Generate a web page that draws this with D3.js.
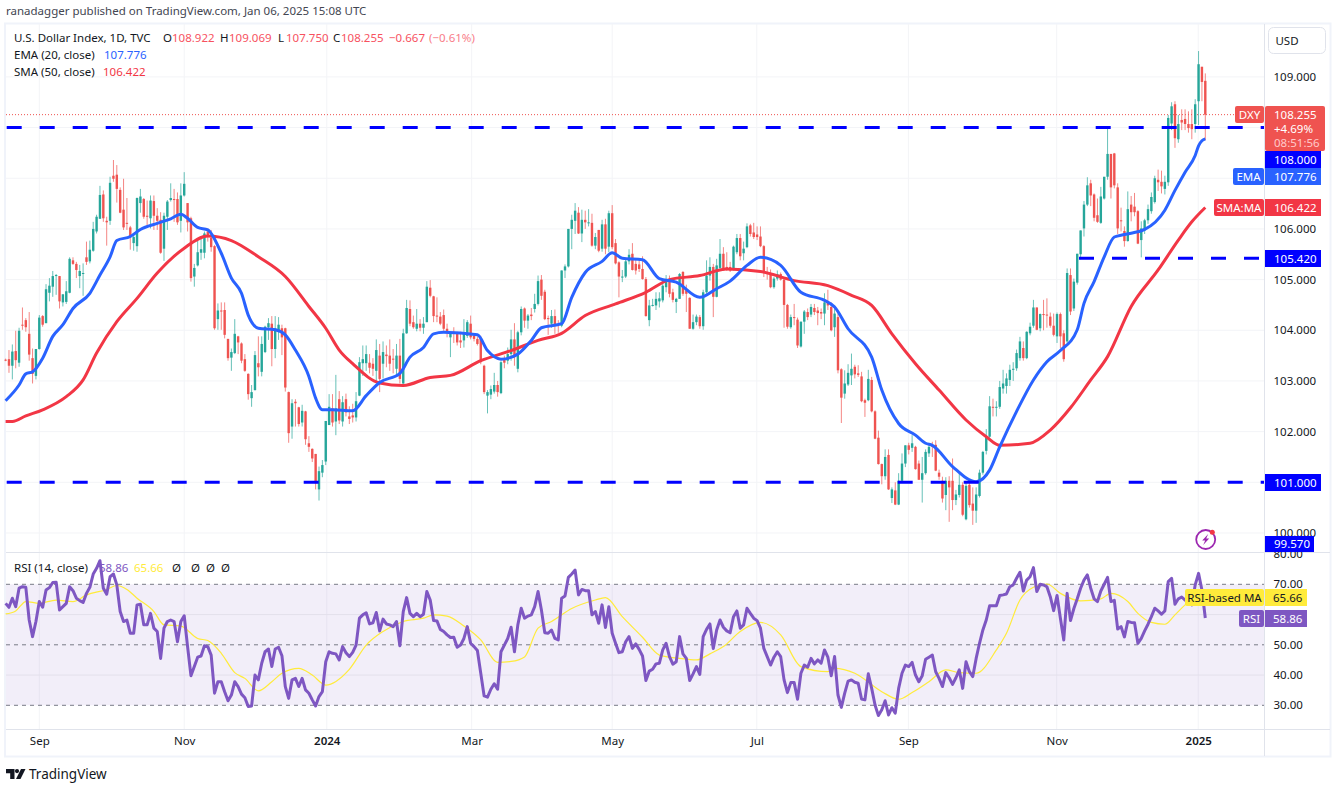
<!DOCTYPE html>
<html><head><meta charset="utf-8">
<script src="https://cdn.jsdelivr.net/npm/d3@7"></script>
<style>
html,body{margin:0;padding:0;background:#fff;overflow:hidden}
svg{display:block}
text{font-family:"Noto Sans",sans-serif;font-size:11.5px;fill:#131722}
</style></head><body>
<svg id="c" width="1337" height="791"></svg>
<script>
const opens=[
103.42,103.43,103.30,103.59,103.36,104.11,104.20,103.93,103.45,103.10,
103.63,104.28,104.14,104.74,104.86,105.07,105.07,104.55,104.56,104.74,
105.38,105.31,105.07,105.13,105.44,105.36,105.57,105.95,106.20,106.68,
106.16,106.16,107.05,107.07,106.77,106.38,106.12,106.03,105.72,105.66,
106.51,106.59,106.26,106.21,106.55,106.26,106.18,105.61,106.24,106.57,
106.59,106.59,106.16,106.66,106.51,106.21,105.06,105.28,105.53,105.53,
105.95,105.82,105.66,104.22,104.39,104.40,103.83,103.46,103.55,103.88,
103.74,103.43,103.14,102.66,102.82,103.35,103.18,103.57,104.06,104.13,
103.63,103.97,104.04,104.04,102.78,102.10,102.59,102.48,102.18,102.40,
101.77,101.66,101.56,100.86,101.19,101.41,102.13,102.46,102.20,102.64,
102.20,102.64,102.30,102.32,102.28,102.71,103.35,103.35,103.36,103.34,
103.20,103.50,103.34,103.52,103.50,103.44,103.24,103.50,102.95,103.94,
104.42,104.16,104.03,104.13,104.05,104.16,104.84,104.67,104.29,104.27,
104.30,104.03,103.86,103.97,103.96,103.80,103.80,103.89,104.13,103.89,
103.83,103.83,103.30,102.71,102.73,102.79,102.92,102.76,103.43,103.40,
103.53,103.82,103.24,103.96,104.43,104.19,104.31,104.42,104.52,105.00,
104.76,104.24,104.13,104.28,104.12,104.09,105.18,105.26,106.00,106.16,
106.32,105.91,106.18,106.12,106.12,105.67,105.98,105.61,106.09,105.65,
106.31,105.72,105.34,105.04,105.06,105.36,105.51,105.31,105.30,105.21,
105.01,104.20,104.50,104.49,104.57,104.59,104.85,105.01,104.75,104.56,
104.62,105.15,104.79,104.64,104.03,104.16,104.26,104.08,104.75,105.08,
105.25,104.66,105.23,105.51,105.25,105.25,105.22,105.54,105.82,105.52,
105.64,106.07,105.93,105.89,105.85,105.66,105.15,105.13,104.85,105.02,
105.11,105.00,104.50,104.06,104.26,104.21,103.68,104.17,104.36,104.31,
104.44,104.39,104.36,104.33,104.54,104.46,104.06,104.26,103.23,102.75,
102.93,103.11,103.28,103.15,103.09,102.62,102.62,103.02,102.40,101.88,
101.36,101.12,101.54,100.69,100.84,100.56,101.03,101.37,101.73,101.68,
101.70,101.37,101.05,101.18,101.57,101.72,101.74,101.19,101.03,100.75,
101.03,101.03,100.65,100.75,100.95,100.27,100.95,100.58,100.44,100.73,
101.19,101.62,101.90,102.49,102.47,102.49,102.85,102.90,103.02,103.22,
103.25,103.45,103.65,103.45,103.94,104.09,104.45,104.04,104.32,104.31,
104.27,104.09,103.88,104.32,103.94,103.78,105.09,104.43,104.94,105.50,
106.01,106.48,106.90,106.68,106.27,106.12,106.60,107.03,107.48,107.49,
106.82,106.17,105.96,105.76,106.48,106.44,106.35,105.78,105.97,106.17,
106.35,106.53,106.97,106.93,106.79,106.92,108.08,108.46,107.77,108.15,
108.17,108.07,108.07,108.07,108.52,109.20,108.922];
const highs=[
103.44,103.61,103.72,103.99,104.05,104.45,104.24,104.36,103.64,103.63,
104.30,104.30,104.91,105.03,105.17,105.11,105.07,104.71,104.97,105.44,
105.44,105.35,105.29,105.32,105.75,105.77,106.14,106.28,106.85,106.76,
106.24,107.03,107.36,107.26,106.82,106.99,106.61,106.06,105.91,106.62,
106.79,106.61,106.56,106.66,106.66,106.41,106.33,106.32,106.57,106.90,
106.79,106.72,106.90,107.12,106.51,106.24,105.31,105.78,105.86,105.95,
106.01,105.98,105.68,104.53,104.55,104.55,103.83,103.64,104.22,103.89,
103.76,103.53,103.15,102.92,103.59,103.88,103.88,104.09,104.24,104.28,
104.28,104.26,104.11,104.05,102.79,102.64,102.64,102.49,102.53,102.41,
101.91,101.67,101.56,101.31,101.44,102.21,102.74,102.74,103.12,102.80,
102.70,102.75,102.50,102.55,102.78,103.47,103.70,103.70,103.53,103.45,
103.82,103.73,103.78,103.70,103.82,103.63,103.73,103.83,104.03,104.60,
104.59,104.29,104.42,104.22,104.26,104.97,104.99,104.68,104.65,104.36,
104.41,104.13,103.96,104.06,103.97,103.97,104.22,104.20,104.29,103.93,
103.88,103.89,103.32,102.82,102.91,103.16,103.00,103.39,103.50,103.66,
104.01,104.14,103.99,104.47,104.45,104.32,104.44,104.72,105.08,105.09,
104.80,104.29,104.40,104.41,104.20,105.18,105.30,106.00,106.28,106.51,
106.43,106.38,106.36,106.39,106.30,105.92,105.98,106.18,106.20,106.36,
106.47,105.80,105.36,105.19,105.41,105.60,105.72,105.40,105.40,105.46,
105.05,104.60,104.62,104.75,104.75,104.97,105.09,105.08,104.82,104.64,
105.13,105.17,104.90,104.65,104.31,104.31,104.30,104.80,105.38,105.44,
105.31,105.41,105.80,105.64,105.54,105.35,105.67,105.90,105.90,105.75,
106.11,106.10,106.12,106.05,106.05,105.68,105.25,105.20,105.05,105.18,
105.14,105.05,104.52,104.31,104.52,104.25,104.17,104.40,104.43,104.52,
104.52,104.46,104.43,104.73,104.80,104.55,104.50,104.33,103.25,103.21,
103.33,103.54,103.32,103.31,103.18,102.65,103.22,103.08,102.42,102.02,
101.37,101.65,101.65,100.90,101.00,101.18,101.57,101.73,101.78,101.93,
101.72,101.43,101.50,101.65,101.75,101.80,101.83,101.25,101.11,101.10,
101.12,101.47,100.85,101.22,101.00,101.03,101.00,100.90,100.90,101.25,
101.62,102.05,102.70,102.65,102.60,103.00,103.22,103.15,103.32,103.37,
103.62,103.87,103.78,103.98,104.15,104.60,104.45,104.33,104.60,104.63,
104.35,104.33,104.35,104.35,104.00,105.22,105.22,105.02,105.51,105.97,
106.55,107.02,106.97,106.70,106.60,106.83,107.00,108.00,107.48,107.50,
106.90,106.42,106.05,106.74,106.65,106.71,106.37,106.15,106.20,106.48,
106.72,107.05,107.17,107.15,107.05,108.25,108.50,108.52,108.25,108.36,
108.36,108.32,108.36,108.56,109.51,109.20,109.069];
const lows=[
103.39,103.16,103.03,103.25,103.28,104.01,103.97,103.40,102.95,103.03,
103.62,104.07,104.14,104.57,104.66,104.70,104.43,104.47,104.52,104.73,
105.29,105.03,104.83,104.68,105.29,105.32,105.55,105.91,106.20,106.14,
105.67,106.08,106.93,106.52,106.31,105.98,105.98,105.59,105.57,105.55,
106.32,106.20,106.03,106.01,105.98,105.98,105.51,105.37,105.98,106.54,
106.14,106.08,105.93,106.64,105.95,104.96,104.86,105.26,105.39,105.42,
105.75,105.55,104.01,104.01,104.01,103.84,103.40,103.20,103.53,103.53,
103.35,103.18,102.63,102.49,102.81,103.09,103.09,103.55,103.81,103.29,
103.45,103.81,103.51,102.79,101.78,101.86,102.10,102.10,102.10,101.74,
101.60,101.40,100.86,100.64,101.10,101.34,102.13,102.10,101.93,102.15,
102.10,102.30,102.15,102.18,102.20,102.70,103.10,103.20,103.15,103.10,
103.00,102.78,103.05,103.27,103.20,103.15,103.10,102.95,102.94,103.93,
104.08,104.03,103.98,103.98,103.93,104.16,104.65,104.16,104.16,104.10,
103.99,103.86,103.47,103.75,103.70,103.65,103.66,103.85,103.82,103.78,
103.70,103.33,102.74,102.36,102.64,102.75,102.69,102.74,103.25,103.33,
103.40,103.30,103.17,103.90,104.05,104.03,104.20,104.35,104.49,104.60,
104.20,103.91,104.05,103.93,103.95,104.06,105.03,105.24,105.60,105.90,
105.90,105.74,106.00,106.05,105.65,105.60,105.54,105.55,105.50,105.54,
105.60,105.30,104.65,104.95,105.03,105.30,105.18,105.10,105.15,105.00,
104.27,104.08,104.47,104.40,104.45,104.55,104.75,104.65,104.55,104.34,
104.62,104.68,104.36,104.03,104.01,104.10,104.03,104.01,104.72,104.98,
104.26,104.65,105.20,105.18,105.17,105.15,105.18,105.50,105.38,105.38,
105.62,105.85,105.80,105.78,105.64,105.05,105.00,104.83,104.82,104.98,
104.98,104.05,104.03,104.03,104.10,103.65,103.66,103.93,104.20,104.26,
104.30,104.10,104.22,104.10,104.40,103.98,103.87,103.15,102.17,102.65,
102.90,102.92,103.05,103.08,102.58,102.29,102.60,102.38,101.85,101.35,
100.96,101.05,100.85,100.59,100.55,100.55,101.00,101.30,101.55,101.60,
101.25,101.05,100.60,101.15,101.50,101.50,101.22,101.05,100.60,100.45,
100.22,100.45,100.55,100.70,100.33,100.25,100.50,100.16,100.20,100.70,
101.15,101.55,101.88,102.30,102.30,102.45,102.75,102.75,102.90,103.00,
103.20,103.40,103.40,103.43,103.90,104.05,104.00,103.98,104.00,104.05,
104.05,103.88,103.75,103.65,103.38,103.75,104.30,104.38,104.90,105.40,
105.85,106.45,106.45,106.15,106.12,106.10,106.58,106.97,106.60,106.80,
105.90,105.95,105.65,105.75,106.15,106.25,105.70,105.44,105.90,106.10,
106.30,106.50,106.75,106.70,106.68,106.85,107.95,107.60,107.70,107.95,
107.95,107.90,107.77,107.90,108.05,108.52,107.750];
const closes=[
103.40,103.30,103.58,103.41,103.99,104.10,104.06,103.52,103.14,103.63,
104.25,104.11,104.81,104.88,105.07,105.09,104.57,104.71,104.77,105.41,
105.31,105.19,105.17,105.13,105.35,105.59,106.00,106.24,106.67,106.21,
106.13,106.91,106.99,106.79,106.32,106.03,106.10,105.84,105.84,106.61,
106.64,106.24,106.24,106.56,106.26,106.16,105.53,106.26,106.54,106.61,
106.57,106.13,106.66,106.89,106.13,105.03,105.23,105.54,105.60,105.91,
105.84,105.64,104.04,104.39,104.37,103.91,103.45,103.57,103.93,103.76,
103.40,103.20,102.74,102.78,103.51,103.27,103.73,104.07,104.14,103.63,
104.04,104.11,103.86,102.87,101.97,102.56,102.56,102.15,102.41,101.85,
101.70,101.47,100.98,101.22,101.34,102.21,102.49,102.18,102.46,102.22,
102.58,102.38,102.25,102.28,102.60,103.37,103.43,103.53,103.26,103.24,
103.61,103.04,103.57,103.49,103.34,103.42,103.50,103.04,103.94,104.44,
104.13,104.06,104.13,104.05,104.13,104.86,104.68,104.28,104.27,104.13,
104.03,103.96,103.96,103.94,103.76,103.76,103.96,104.16,103.86,103.83,
103.73,103.37,102.78,102.78,102.84,102.92,102.78,103.37,103.36,103.53,
103.82,103.47,103.96,104.42,104.19,104.29,104.28,104.52,104.97,104.68,
104.22,104.22,104.28,104.09,104.10,105.18,105.26,106.00,106.18,106.36,
105.91,106.18,106.13,106.13,105.67,105.84,105.57,106.09,105.61,106.31,
105.64,105.32,105.06,105.06,105.36,105.49,105.19,105.18,105.21,105.01,
104.28,104.49,104.50,104.62,104.63,104.88,105.01,104.72,104.60,104.62,
105.11,104.72,104.72,104.03,104.16,104.27,104.08,104.75,105.08,105.25,
104.66,105.28,105.51,105.18,105.22,105.18,105.65,105.82,105.46,105.61,
106.05,105.90,105.84,105.84,105.66,105.15,105.11,104.85,105.02,105.11,
105.00,104.50,104.07,104.26,104.25,103.70,104.17,104.37,104.26,104.46,
104.36,104.34,104.33,104.55,104.49,104.00,104.33,103.21,102.67,102.95,
103.16,103.24,103.13,103.12,102.60,102.57,103.04,102.40,101.86,101.36,
101.12,101.50,100.86,100.86,100.56,101.03,101.37,101.73,101.64,101.77,
101.26,101.05,101.18,101.60,101.70,101.71,101.23,101.11,100.68,101.03,
100.90,100.65,100.76,100.95,100.36,100.93,100.55,100.44,100.76,101.19,
101.60,101.90,102.50,102.47,102.49,102.88,102.95,103.05,103.22,103.24,
103.55,103.78,103.45,103.97,104.07,104.45,104.01,104.32,104.30,104.30,
104.09,103.91,104.32,103.88,103.43,105.13,104.37,104.96,105.51,105.97,
106.48,106.86,106.66,106.22,106.14,106.64,107.03,107.48,106.82,106.86,
106.01,106.16,105.76,106.39,106.33,106.33,105.71,106.01,106.17,106.39,
106.63,107.00,106.92,106.84,106.93,108.19,108.42,107.79,108.07,108.10,
108.07,107.99,107.97,108.46,109.25,108.90,108.255];
const rsiValues=[
63.7,62.4,65.4,62.6,68.7,69.2,69,58.2,52.7,57.7,
64.3,62.4,68.1,68.9,70.6,70.7,61.5,62.6,63.7,69.2,
67.9,65.4,64.6,64,67,69,73.4,75.3,77.8,68.7,
66.7,72.5,73.4,69.8,61,57.7,58.2,53.8,53.8,63.2,
63.4,56.6,56.6,60.4,55.5,54.4,45.5,55.5,57.7,58.2,
57.7,51,57.7,59.6,49.4,39.8,42.8,45.9,46.3,49.7,
49.4,46.6,34,37.8,37.8,34.5,31.5,33.4,37.8,36.2,
33.7,32.5,29.6,29.8,40,38.4,43.9,47.7,48.6,42.8,
48.6,49.2,46.4,36.2,32.3,38.4,38.9,36.2,38.9,35.1,
34,31.8,29.8,32.9,34.5,44.4,47.7,47.2,47,45,
49.4,47.4,46.1,47.5,49.9,58.8,59.9,60.6,56.9,57.3,
60.7,54.6,58.5,56.9,56.6,56,57.7,49.7,61,65.6,
60.4,59.3,60.4,59.3,60.1,67.6,64.8,58,57.9,55.1,
54.4,53.3,52.4,52.5,49.2,49.9,52.1,56,50.5,49.4,
48.1,40.6,33.1,32.7,35.3,37.1,35.3,47.7,49.9,52.1,
55.8,47.7,56.6,62.1,58.8,59.5,59.9,62.6,67.6,61.5,
54,53.8,54.9,52.1,51.6,65.4,66.1,72.3,73.4,74.7,
66.5,68.3,67.9,67.9,59.9,61,57.1,63.2,55.7,62.6,
53.8,50.5,47.4,47.7,51,52.7,48.8,50.3,48.5,46.3,
38.2,41.3,41.9,43.7,43.9,48.3,50.5,46.1,43.6,44.4,
52.7,47,45.5,38.2,40.4,42.8,40.2,52.7,55.1,56.9,
48.8,54.9,58.2,55.8,54.6,54,59.3,61.2,55.5,56.6,
62.1,60.4,58.8,58,55.5,48.8,46.1,43.3,45.9,47.7,
46.1,38.4,34.2,37.5,37.5,32,40.6,43.3,42.6,45.5,
43.7,45,43.9,48.3,45.9,39.8,46.1,33.4,29.3,34,
38,38.4,37.6,37.3,32.1,31.8,40.4,35.6,30.1,26.6,
28.5,31.5,26.8,29.2,27.4,35.6,40.6,43.3,42.8,44.2,
40,37.8,39.8,45.2,45.9,46.6,41.1,38.9,36.2,40.8,
39.1,36.9,39.1,41.7,35.6,44.4,41.1,39.5,45.5,50.5,
54.9,58.2,62.9,62.9,62.9,66.3,66.5,66.8,69.2,69.8,
72,74,67.8,71.4,72.5,75.5,67.6,70,69.8,69.2,
65.9,61.3,66.3,58.8,51.6,67,58,62,65.2,68.7,
71.4,73.1,68.7,65.2,64.3,67.8,70,72.3,64.3,64.7,
55.2,56,52.6,57.7,57.4,57.3,50.5,52.1,54.6,56.8,
59.3,62.1,61.2,60.1,61.2,70.9,72,63.4,65.2,65.8,
64.8,63.7,63.2,69.8,73.6,68.1,58.86];
const emaBars=[0,4,6,8,11,14,17,20,25,28,31,33,37,40,45,49,52,54,57,60,64,67,70,72,75,80,83,86,90,92,94,97,103,107,111,117,120,124,127,130,140,143,147,152,156,159,165,168,172,177,180,183,189,194,199,206,211,215,220,224,230,236,243,246,250,257,260,265,270,273,275,281,288,292,295,300,305,309,313,318,320,323,326,329,332,338,344,347,350,353,354,355,356];
const emaValues=[102.61,102.92,103.14,103.18,103.45,103.88,104.11,104.43,104.73,105.09,105.45,105.77,105.85,105.99,106.11,106.20,106.29,106.21,106.03,105.98,105.52,105.03,104.73,104.30,104.04,104.01,103.91,103.61,103.09,102.66,102.43,102.43,102.41,102.71,102.97,103.15,103.47,103.66,103.93,103.96,103.91,103.60,103.43,103.53,103.80,104.05,104.13,104.65,105.14,105.36,105.53,105.42,105.39,105.02,104.95,104.65,104.82,104.97,105.28,105.44,105.28,104.75,104.59,104.46,104.03,103.47,102.82,102.16,101.93,101.77,101.73,101.31,101.01,101.24,101.70,102.40,103.02,103.38,103.60,104.01,104.53,104.96,105.45,105.84,105.89,105.99,106.37,106.76,107.12,107.45,107.64,107.74,107.776];
const smaBars=[0,2,6,11,18,23,27,33,39,45,53,60,67,75,83,90,95,99,103,111,118,126,132,141,150,158,165,172,181,190,197,206,214,224,234,244,251,257,263,270,277,285,291,295,304,310,316,322,327,334,342,348,352,356];
const smaValues=[102.2,102.2,102.31,102.43,102.69,103.02,103.55,104.17,104.63,105.13,105.62,105.86,105.77,105.45,105.06,104.47,104.04,103.61,103.34,102.96,102.91,103.07,103.11,103.4,103.6,103.8,103.94,104.29,104.52,104.75,105,105.08,105.21,105.16,104.98,104.88,104.69,104.49,103.93,103.34,102.82,102.23,101.9,101.73,101.77,102.03,102.47,103.02,103.48,104.47,105.19,105.78,106.14,106.422];
const rsiMaBars=[0,3,6,10,15,20,24,30,33,36,39,44,47,52,57,60,64,68,71,75,79,82,87,91,95,102,107,112,118,124,127,131,136,141,146,150,154,158,162,168,175,178,183,189,194,200,205,209,213,218,224,230,236,244,246,252,260,265,269,274,279,283,288,294,297,301,305,309,313,319,325,328,333,336,340,344,347,350,354,356];
const rsiMaValues=[60.2,61.2,64.3,63.7,64.8,64.3,66.5,68.3,69.6,68.3,65.4,61,56.6,56.2,52.1,51.4,47.2,40.8,38.9,34.8,37.8,40.6,42.2,40,36.7,41.9,49.9,54.4,57.7,58.8,59.9,59.5,56.2,51.6,44.2,44.5,46,55.5,57.7,62,64.8,65.6,59.3,52.5,46.6,45.5,45,47,49.4,54.4,57.4,53.3,42.8,41.1,42.2,40.6,34.5,32,34.2,37.8,41.7,40.8,40.6,48.3,53.8,64.8,69,70.1,67,64.5,65.2,67,64.3,60.4,57.4,56.8,59.9,63.2,66.7,65.66];
const timeTickBars=[10,53,95.3,138.3,180,222.9,267.9,311.9,353.9];
const timeTickLabels=["Sep","Nov","2024","Mar","May","Jul","Sep","Nov","2025"];
const priceTicks=[100,101,102,103,104,105,106,107,108,109];
const priceLabels=[100,102,103,104,105,106,109];
const rsiLabels=[30,40,50,70,80];
const levels=[{p:108,whole:true},{p:105.42,whole:false},{p:101,whole:true}];

const left=6,right=1264.5,N=closes.length;
const svg=d3.select("#c");
const x=d3.scaleLinear().domain([0,356]).range([5.6,1205.3]);
const y=d3.scaleLinear().domain([101,109]).range([482.3,76.9]);
const r=d3.scaleLinear().domain([30,70]).range([705.3,584.3]);
const up="#26a69a",down="#ef5350";
const GRID="#f3f4f7",BORDER="#e0e3eb",FRAME="#f0f3fa",FS="11.5px";

svg.append("rect").attr("x",5).attr("y",23.5).attr("width",1325.5).attr("height",733).attr("fill","#fff").attr("stroke",FRAME).attr("stroke-width",2);

svg.append("g").selectAll("line").data(timeTickBars).join("line")
 .attr("x1",d=>x(d)).attr("x2",d=>x(d)).attr("y1",24).attr("y2",729).attr("stroke",GRID);
svg.append("g").selectAll("line").data(priceTicks).join("line")
 .attr("x1",left).attr("x2",right).attr("y1",d=>y(d)).attr("y2",d=>y(d)).attr("stroke",GRID);
svg.append("rect").attr("x",left).attr("width",right-left).attr("y",r(70)).attr("height",r(30)-r(70)).attr("fill","rgba(126,87,194,0.1)");
svg.append("g").selectAll("line").data([40,60]).join("line")
 .attr("x1",left).attr("x2",right).attr("y1",d=>r(d)).attr("y2",d=>r(d)).attr("stroke","#e3e0ec");
svg.append("g").selectAll("line").data([30,50,70]).join("line")
 .attr("x1",left).attr("x2",right).attr("y1",d=>r(d)).attr("y2",d=>r(d)).attr("stroke","#787b86").attr("stroke-dasharray","4 4");

svg.append("line").attr("x1",left).attr("x2",1235).attr("y1",y(108.255)).attr("y2",y(108.255)).attr("stroke","#ef5350").attr("stroke-dasharray","1 2");

const idx=d3.range(N);
const col=i=>closes[i]>=opens[i]?up:down;
svg.append("g").selectAll("line").data(idx).join("line")
 .attr("x1",i=>x(i)).attr("x2",i=>x(i)).attr("y1",i=>y(highs[i])).attr("y2",i=>y(lows[i]))
 .attr("stroke",col).attr("stroke-width",1).attr("stroke-opacity",.7);
svg.append("g").selectAll("rect").data(idx).join("rect")
 .attr("x",i=>x(i)-1.2).attr("width",2.4)
 .attr("y",i=>Math.min(y(opens[i]),y(closes[i])))
 .attr("height",i=>Math.max(1,Math.abs(y(opens[i])-y(closes[i]))))
 .attr("fill",col);

const line=(xs,ys,sc)=>d3.line().curve(d3.curveMonotoneX).x(d=>x(d[0])).y(d=>sc(d[1]))(d3.zip(xs,ys));
svg.append("path").attr("d",line(smaBars,smaValues,y)).attr("fill","none").attr("stroke","#f23645").attr("stroke-width",3);
svg.append("path").attr("d",line(emaBars,emaValues,y)).attr("fill","none").attr("stroke","#2962ff").attr("stroke-width",3);

levels.forEach(l=>{
  svg.append("line").attr("x1",l.whole?6.7:1079).attr("x2",right).attr("y1",y(l.p)).attr("y2",y(l.p))
   .attr("stroke","#0000ff").attr("stroke-width",3).attr("stroke-dasharray","15 18");
});

svg.append("path").attr("d",line(rsiMaBars,rsiMaValues,r)).attr("fill","none").attr("stroke","#ffeb3b").attr("stroke-width",1.2);
svg.append("path").attr("d",d3.line().x((d,i)=>x(i)).y(d=>r(d))(rsiValues)).attr("fill","none").attr("stroke","#7e57c2").attr("stroke-width",3).attr("stroke-linejoin","round");

svg.append("line").attr("x1",6).attr("x2",1330).attr("y1",552.5).attr("y2",552.5).attr("stroke",BORDER);
svg.append("line").attr("x1",6).attr("x2",1330).attr("y1",729.5).attr("y2",729.5).attr("stroke",BORDER);
svg.append("line").attr("x1",1264.5).attr("x2",1264.5).attr("y1",24).attr("y2",756).attr("stroke",BORDER);

const ax=svg.append("g").attr("transform","translate(1264.5,0)")
 .call(d3.axisRight(y).tickValues(priceLabels).tickSize(0).tickPadding(9).tickFormat(d3.format(".3f")));
ax.select(".domain").remove();
const ar=svg.append("g").attr("transform","translate(1264.5,0)")
 .call(d3.axisRight(r).tickValues(rsiLabels).tickSize(0).tickPadding(9).tickFormat(d3.format(".2f")));
ar.select(".domain").remove();
const tAxis=d3.axisBottom(x).tickValues(timeTickBars).tickSize(0).tickPadding(8).tickFormat((d,i)=>timeTickLabels[i]);
const at=svg.append("g").attr("transform","translate(0,729)").call(tAxis);
at.select(".domain").remove();
at.selectAll("text").style("font-weight",(d,i)=>(timeTickLabels[i]==="2024"||timeTickLabels[i]==="2025")?600:400);
svg.selectAll(".tick text").style("font-family",'"Noto Sans",sans-serif').style("font-size",FS).style("fill","#131722");

const T=(xp,yp,s,c,o={})=>{const t=svg.append("text").attr("x",xp).attr("y",yp).text(s);if(c)t.style("fill",c);
 if(o.size)t.style("font-size",o.size+"px");if(o.anchor)t.attr("text-anchor",o.anchor);if(o.w)t.style("font-weight",o.w);if(o.op)t.style("opacity",o.op);return t;};
T(6,15,"ranadagger published on TradingView.com, Jan 06, 2025 15:08 UTC","#434651");
T(14,42,"U.S. Dollar Index, 1D, TVC");
const red="#f7525f";
T(163,42,"O");T(172,42,"108.922",red);T(220,42,"H");T(229,42,"109.069",red);T(278,42,"L");T(286,42,"107.750",red);
T(333,42,"C");T(341,42,"108.255",red);T(389,42,"−0.667",red);T(429,42,"(−0.61%)",red,{op:.75});
T(14,59,"EMA (20, close)");T(104,59,"107.776","#2962ff");
T(14,76,"SMA (50, close)");T(103,76,"106.422","#f23645");
T(14,572,"RSI (14, close)");T(99,572,"58.86","#7e57c2");T(134,572,"65.66","#ffeb3b");
[172,191,206,221].forEach(xp=>T(xp,572,"Ø","#131722"));

svg.append("rect").attr("x",1268.5).attr("y",27.5).attr("width",57).attr("height",26).attr("rx",5).attr("fill","#fff").attr("stroke",BORDER);
T(1287,45,"USD",null,{anchor:"middle"});

const tag=(xp,yp,w,h,c,s,fc,o={})=>{svg.append("rect").attr("x",xp).attr("y",yp).attr("width",w).attr("height",h).attr("rx",o.rx||0).attr("fill",c);
 return T(o.tx||xp+w/2,yp+h/2+4.2,s,fc||"#fff",{anchor:o.tx?null:"middle"});};
tag(1235,106,29,17,"#ef5350","DXY",null,{rx:2});
svg.append("rect").attr("x",1265).attr("y",106).attr("width",60).attr("height",45).attr("rx",2).attr("fill","#ef5350");
T(1274,119,"108.255","#fff");T(1274,133,"+4.69%","#fff");T(1274,147,"08:51:56","#ffc9c9");
tag(1265,151,56,17,"#0000ff","108.000",null,{tx:1274});
tag(1233,168,31,17,"#2962ff","EMA",null,{rx:2});
tag(1265,168,56,17,"#2962ff","107.776",null,{tx:1274});
tag(1214,199,50,17,"#f23645","SMA:MA",null,{rx:2});
tag(1265,199,56,17,"#f23645","106.422",null,{tx:1274});
tag(1265,250,56,17,"#0000ff","105.420",null,{tx:1274});
tag(1265,474,56,17,"#0000ff","101.000",null,{tx:1274});
tag(1265,536,49,16,"#0000ff","99.570",null,{tx:1274});
tag(1185,589,79,17,"#ffeb3b","RSI-based MA","#131722",{rx:2});
tag(1265,589,42,17,"#ffeb3b","65.66","#131722",{tx:1273});
tag(1239,610,25,17,"#7e57c2","RSI",null,{rx:2});
tag(1265,610,42,17,"#7e57c2","58.86",null,{tx:1273});

const ic=svg.append("g").attr("transform","translate(1205.7,539.5)");
ic.append("circle").attr("r",9.5).attr("fill","#fff").attr("stroke","#9c27b0").attr("stroke-width",1.8);
ic.append("path").attr("d","M2.5,-5.5 L-3.5,1 L-0.5,1 L-2.5,5.5 L3.5,-1 L0.5,-1 Z").attr("fill","#9c27b0");
svg.append("circle").attr("cx",1212.3).attr("cy",532.3).attr("r",2.5).attr("fill","#f23645");

const lg=svg.append("g").attr("transform","translate(6,769)").attr("fill","#131722");
lg.append("path").attr("d","M0,0 H8.5 V10 H4.2 V4.2 H0 Z");
lg.append("circle").attr("cx",11).attr("cy",2.1).attr("r",2.1);
lg.append("path").attr("d","M15,0 H19.5 L14.5,10 H10 Z");
T(29,779,"TradingView","#131722",{size:13.5});
</script>
</body></html>
